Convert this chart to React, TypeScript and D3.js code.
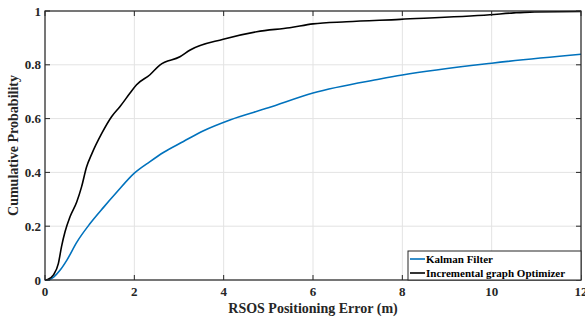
import React from "react";
import * as d3 from "d3";

// Empirical CDF samples: positioning error (m) vs cumulative probability
const kalmanError = [0, 0.07, 0.2, 0.34, 0.49, 0.71, 1.0, 1.31, 1.6, 2.0, 2.35, 2.65, 3.1, 3.55, 4.14, 5.0, 6.0, 7.5, 8.0, 10.0, 12.0];
const kalmanProb = [0, 0, 0.012, 0.037, 0.074, 0.14, 0.208, 0.27, 0.325, 0.397, 0.44, 0.474, 0.515, 0.555, 0.595, 0.64, 0.695, 0.747, 0.762, 0.806, 0.839];

const igoError = [0, 0.06, 0.19, 0.3, 0.37, 0.45, 0.56, 0.71, 0.82, 0.93, 1.05, 1.27, 1.49, 1.68, 1.9, 2.05, 2.35, 2.57, 3.02, 3.25, 3.99, 4.74, 5.48, 6.0, 6.75, 7.95, 9.96, 10.5, 10.86, 12.0];
const igoProb = [0, 0.002, 0.019, 0.062, 0.124, 0.18, 0.235, 0.29, 0.347, 0.42, 0.47, 0.545, 0.607, 0.645, 0.694, 0.726, 0.763, 0.799, 0.83, 0.855, 0.895, 0.923, 0.938, 0.952, 0.96, 0.969, 0.986, 0.993, 0.996, 0.998];

const xTicks = [0, 2, 4, 6, 8, 10, 12];
const yTicks = [0, 0.2, 0.4, 0.6, 0.8, 1];

const seriesNames = ["Kalman Filter", "Incremental graph Optimizer"];
const seriesColors = ["#0072BD", "#000000"];

export default function App() {
  const W = 585;
  const H = 320;
  const left = 45;
  const right = 581;
  const top = 11;
  const bottom = 280;

  const x = d3.scaleLinear().domain([0, 12]).range([left, right]);
  const y = d3.scaleLinear().domain([0, 1]).range([bottom, top]);

  const line = d3
    .line<[number, number]>()
    .x((d) => x(d[0]))
    .y((d) => y(d[1]))
    .curve(d3.curveMonotoneX);

  const series = [
    kalmanError.map((e, i) => [e, kalmanProb[i]] as [number, number]),
    igoError.map((e, i) => [e, igoProb[i]] as [number, number]),
  ];

  const axisColor = "#262626";
  const font = "'Liberation Serif', 'Times New Roman', serif";
  const tickLen = 5;

  const legL = 408;
  const legT = 251;
  const legR = right;
  const legB = bottom;

  return (
    <svg
      width={W}
      height={H}
      style={{ position: "absolute", left: 0, top: 0, background: "#fff" }}
      fontFamily={font}
      fontWeight="bold"
    >
      <rect x={0} y={0} width={W} height={H} fill="#fff" />
      {/* grid */}
      {xTicks.map((t) => (
        <line key={"gx" + t} x1={x(t)} x2={x(t)} y1={top} y2={bottom} stroke="#e3e3e3" strokeWidth={1} />
      ))}
      {yTicks.map((t) => (
        <line key={"gy" + t} x1={left} x2={right} y1={y(t)} y2={y(t)} stroke="#e3e3e3" strokeWidth={1} />
      ))}

      {/* curves */}
      {series.map((s, i) => (
        <path key={i} d={line(s) || ""} fill="none" stroke={seriesColors[i]} strokeWidth={1.6} />
      ))}

      {/* axes box */}
      <rect x={left} y={top} width={right - left} height={bottom - top} fill="none" stroke={axisColor} strokeWidth={1.2} />
      {xTicks.map((t) => (
        <g key={"tx" + t}>
          <line x1={x(t)} x2={x(t)} y1={bottom} y2={bottom - tickLen} stroke={axisColor} />
          <line x1={x(t)} x2={x(t)} y1={top} y2={top + tickLen} stroke={axisColor} />
          <text x={x(t)} y={296} textAnchor="middle" fontSize={13} fill={axisColor}>
            {t}
          </text>
        </g>
      ))}
      {yTicks.map((t) => (
        <g key={"ty" + t}>
          <line x1={left} x2={left + tickLen} y1={y(t)} y2={y(t)} stroke={axisColor} />
          <line x1={right} x2={right - tickLen} y1={y(t)} y2={y(t)} stroke={axisColor} />
          <text x={41} y={y(t) + 4.5} textAnchor="end" fontSize={13} fill={axisColor}>
            {t === 0 || t === 1 ? String(t) : t.toFixed(1)}
          </text>
        </g>
      ))}

      {/* axis labels */}
      <text x={(left + right) / 2} y={313} textAnchor="middle" fontSize={14} fill={axisColor}>
        RSOS Positioning Error (m)
      </text>
      <text
        transform={`translate(18, ${(top + bottom) / 2}) rotate(-90)`}
        textAnchor="middle"
        fontSize={14}
        fill={axisColor}
      >
        Cumulative Probability
      </text>

      {/* legend */}
      <rect x={legL} y={legT} width={legR - legL} height={legB - legT} fill="#fff" stroke={axisColor} strokeWidth={1} />
      {seriesNames.map((name, i) => {
        const cy = legT + 8 + i * 14;
        return (
          <g key={name}>
            <line x1={legL + 2} x2={legL + 17} y1={cy} y2={cy} stroke={seriesColors[i]} strokeWidth={1.6} />
            <text x={legL + 18} y={cy + 4} fontSize={11} fill="#000">
              {name}
            </text>
          </g>
        );
      })}
    </svg>
  );
}
